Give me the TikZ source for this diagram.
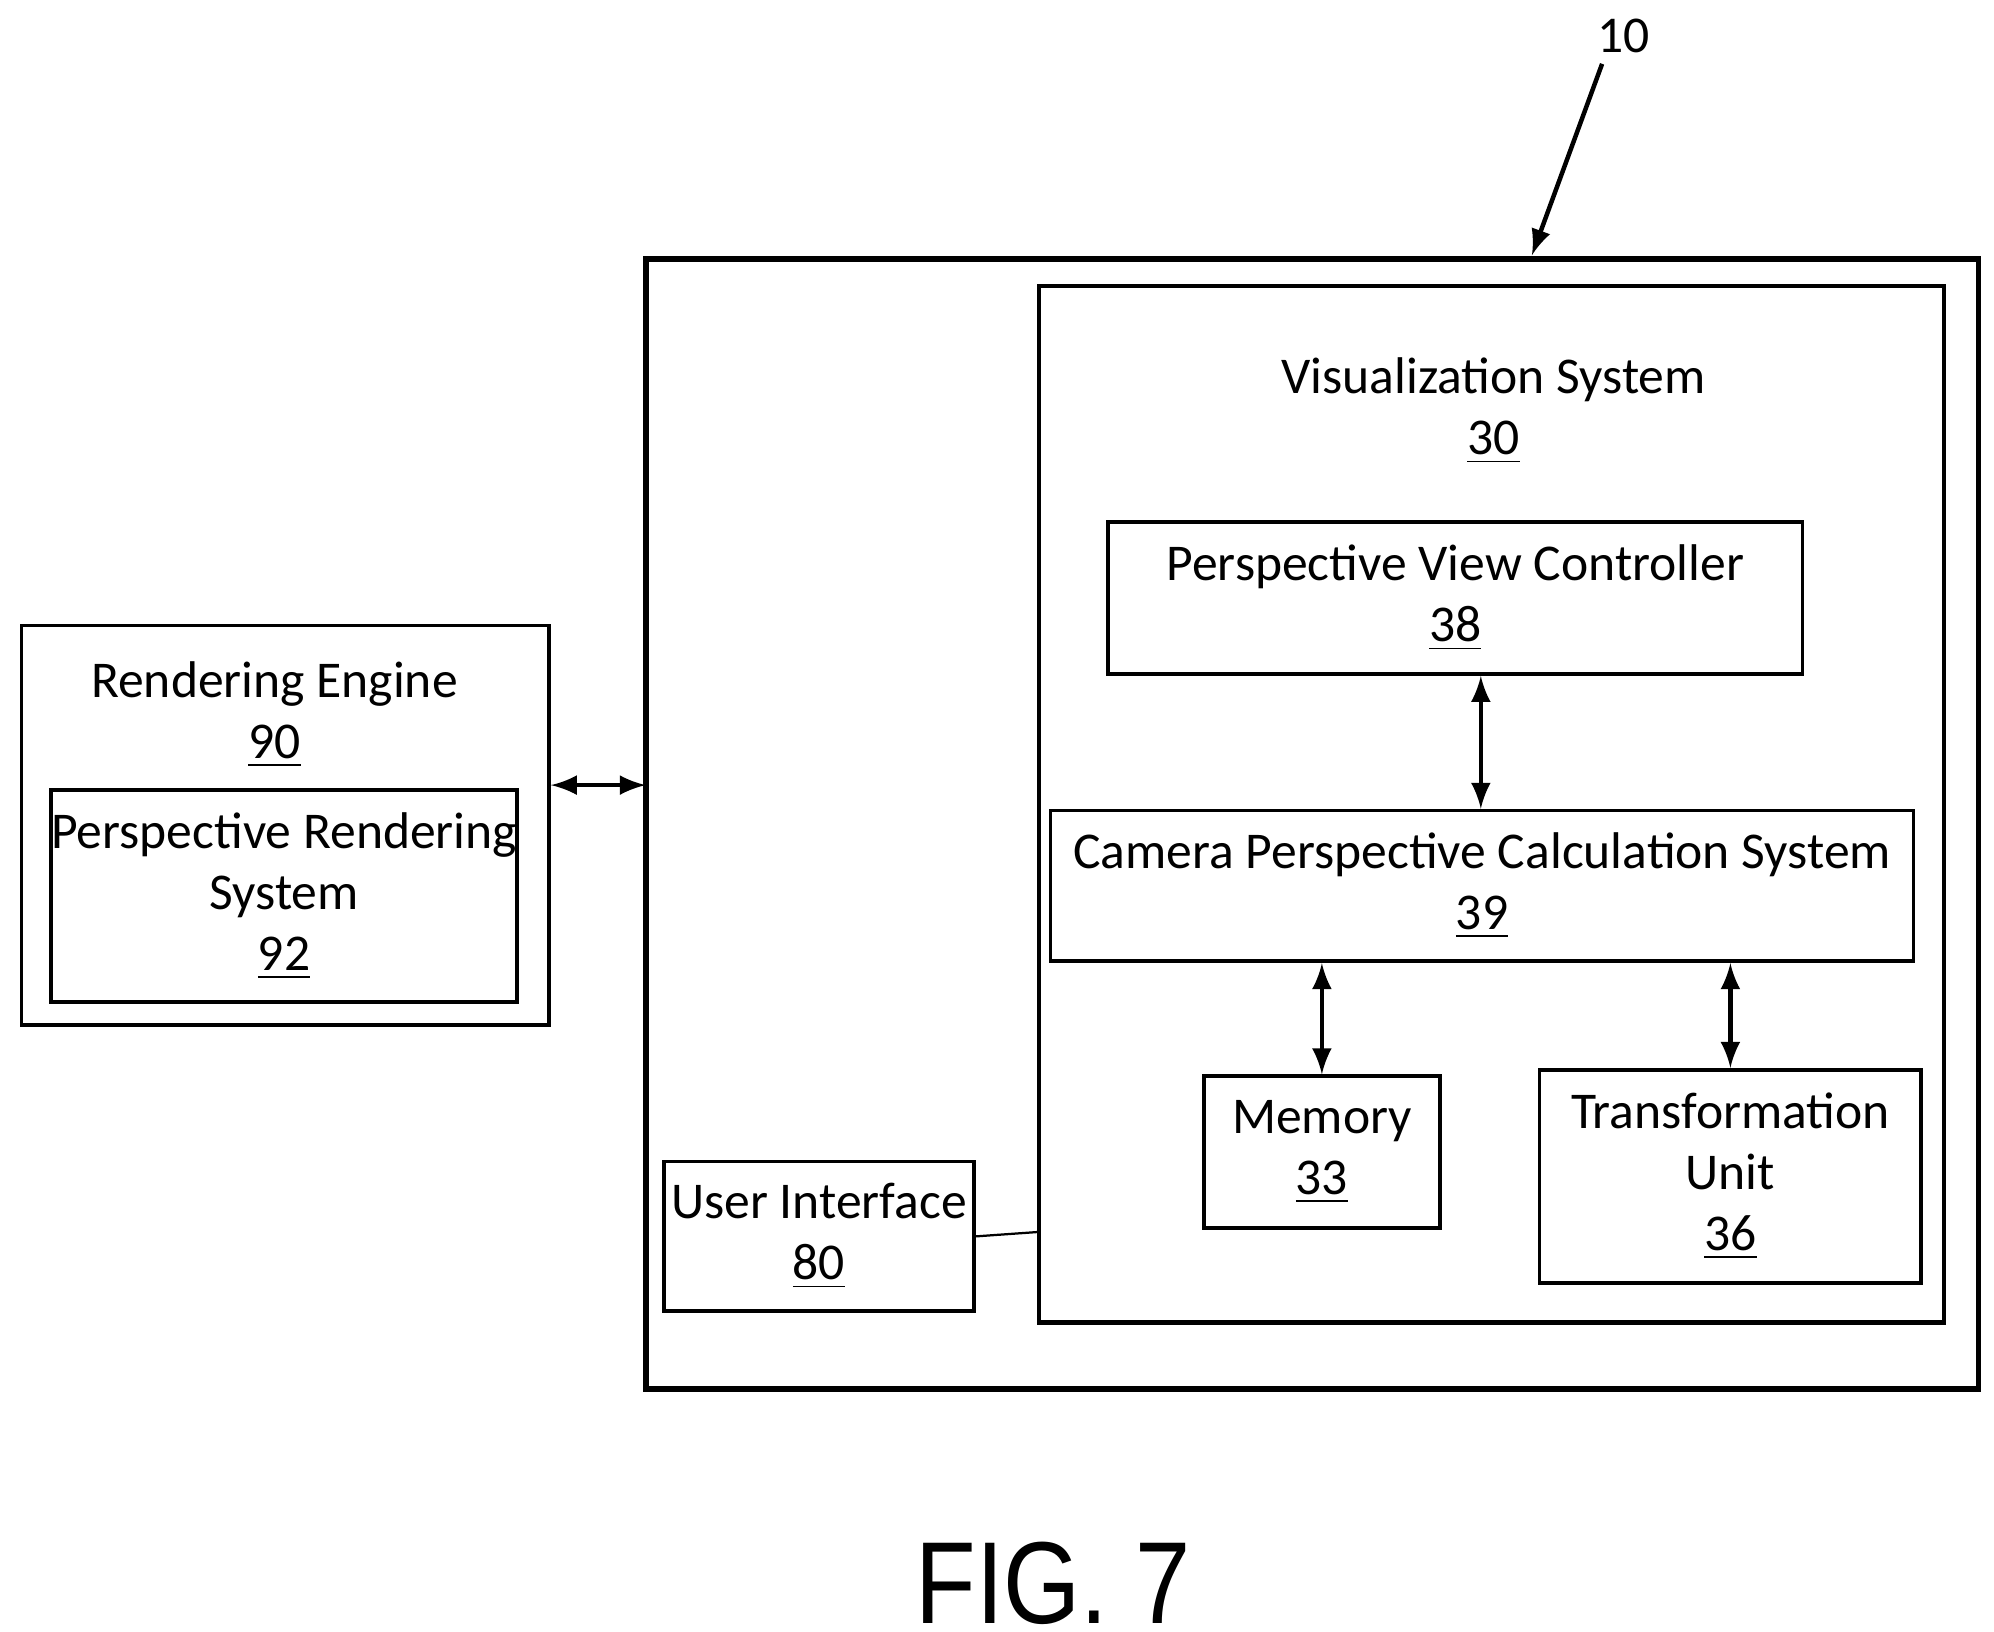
\documentclass[tikz,border=0pt]{standalone}
\usepackage{fontspec}
\setmainfont{Carlito}
\newfontfamily\figfont{Liberation Sans}
\usetikzlibrary{positioning}
\tikzset{
  blk/.style={draw, line width=0.8pt, align=center},
  lbl/.style={align=center, font=\fontsize{11.5}{13.6}\selectfont, inner sep=0pt},
  link/.style={<->, >=latex, line width=1pt}
}
\begin{document}
\begin{tikzpicture}[y=-1cm]
  \useasboundingbox (0,0) rectangle (15.62,12.78);

  % outer system 10
  \draw[line width=1.2pt] (5.06,2.03) rectangle (15.50,10.88);
  \coordinate (top10) at (12.00,2.00);
  \node[lbl] (n10) at (12.72,0.28) {10};
  \draw[->, >=latex, line width=1pt] (12.55,0.50) -- (top10);

  % visualization system 30
  \draw[line width=1pt] (8.14,2.24) rectangle (15.23,10.36);
  \node[lbl] (vis) at (11.70,3.22) {Visualization System\\\underline{30}};

  \node[blk, minimum width=5.44cm, minimum height=1.19cm] (pvc) at (11.40,4.685) {};
  \node[lbl] at (pvc) {Perspective View Controller\\\underline{38}};

  \node[blk, minimum width=6.76cm, minimum height=1.18cm] (cpcs) at (11.61,6.94) {};
  \node[lbl] at (cpcs) {Camera Perspective Calculation System\\\underline{39}};

  \node[blk, minimum width=1.85cm, minimum height=1.19cm] (mem) at (10.355,9.025) {};
  \node[lbl] at (mem) {Memory\\\underline{33}};

  \node[blk, minimum width=2.99cm, minimum height=1.67cm] (tu) at (13.555,9.215) {};
  \node[lbl] at (tu) {Transformation\\Unit\\\underline{36}};

  \node[blk, minimum width=2.43cm, minimum height=1.17cm] (ui) at (6.415,9.685) {};
  \node[lbl] at (ui) {User Interface\\\underline{80}};

  % rendering engine 90
  \node[blk, minimum width=4.13cm, minimum height=3.13cm] (re) at (2.235,6.465) {};
  \node[lbl] at (2.15,5.60) {Rendering Engine\\\underline{90}};
  \node[blk, minimum width=3.65cm, minimum height=1.66cm] (prs) at (2.225,7.02) {};
  \node[lbl] at (prs) {Perspective Rendering\\System\\\underline{92}};

  % connectors
  \draw[link] (re.east |- 0,6.15) -- (5.06,6.15);
  \draw[link] (pvc.south -| 11.60,0) -- (cpcs.north -| 11.60,0);
  \draw[link] (cpcs.south -| mem.north) -- (mem.north);
  \draw[link] (cpcs.south -| tu.north) -- (tu.north);
  \draw[line width=0.5pt] (ui.east) -- (8.14,9.65);

  \node[font=\figfont\fontsize{26}{26}\selectfont, xscale=0.85] (fig) at (8.25,12.40) {FIG. 7};
\end{tikzpicture}
\end{document}
